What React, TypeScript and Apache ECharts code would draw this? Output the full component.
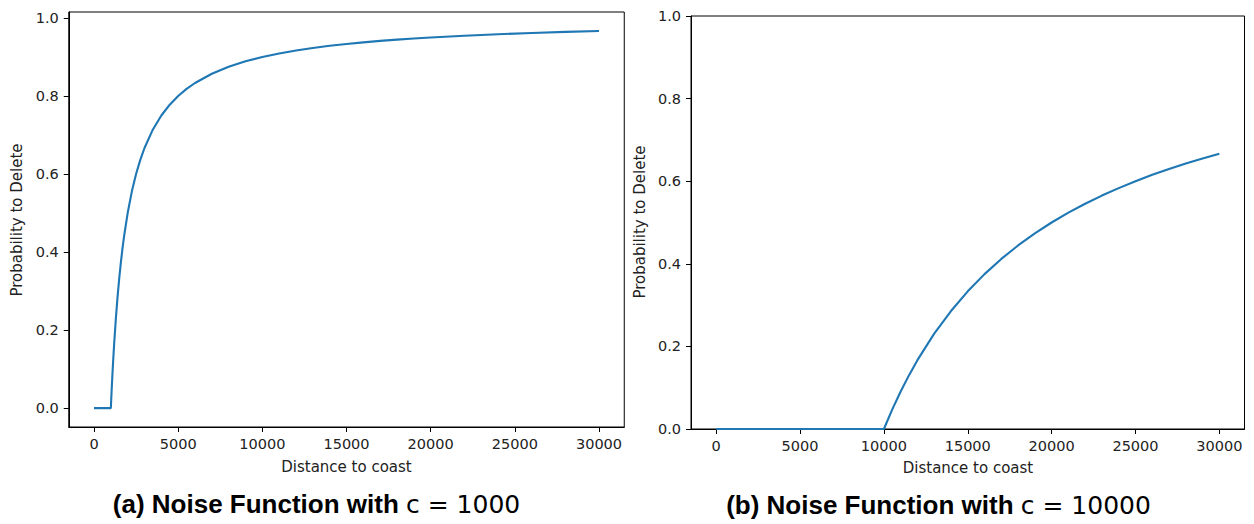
import React, { useEffect, useRef } from "react";
import * as echarts from "echarts";

// Panel (a): c = 1000
const distA = [0, 500, 1000, 1050, 1100, 1150, 1200, 1300, 1400, 1500, 1600, 1700, 1800, 2000, 2250, 2500, 2750, 3000, 3500, 4000, 4500, 5000, 5500, 6000, 7000, 8000, 9000, 10000, 11000, 12000, 13000, 14000, 15000, 16000, 17000, 18000, 19000, 20000, 22000, 24000, 26000, 28000, 30000];
const probA = [0, 0, 0, 0.0476, 0.0909, 0.1304, 0.1667, 0.2308, 0.2857, 0.3333, 0.375, 0.4118, 0.4444, 0.5, 0.5556, 0.6, 0.6364, 0.6667, 0.7143, 0.75, 0.7778, 0.8, 0.8182, 0.8333, 0.8571, 0.875, 0.8889, 0.9, 0.9091, 0.9167, 0.9231, 0.9286, 0.9333, 0.9375, 0.9412, 0.9444, 0.9474, 0.95, 0.9545, 0.9583, 0.9615, 0.9643, 0.9667];

// Panel (b): c = 10000
const distB = [0, 2500, 5000, 7500, 10000, 10500, 11000, 11500, 12000, 13000, 14000, 15000, 16000, 17000, 18000, 19000, 20000, 21000, 22000, 23000, 24000, 25000, 26000, 27000, 28000, 29000, 30000];
const probB = [0, 0, 0, 0, 0, 0.0476, 0.0909, 0.1304, 0.1667, 0.2308, 0.2857, 0.3333, 0.375, 0.4118, 0.4444, 0.4737, 0.5, 0.5238, 0.5455, 0.5652, 0.5833, 0.6, 0.6154, 0.6296, 0.6429, 0.6552, 0.6667];

const xTicks = [0, 5000, 10000, 15000, 20000, 25000, 30000];
const yTicks = [0, 0.2, 0.4, 0.6, 0.8, 1.0];

const xTitle = "Distance to coast";
const yTitle = "Probability to Delete";
const captionA = ["(a) Noise Function with ", "c = 1000"];
const captionB = ["(b) Noise Function with ", "c = 10000"];

const TICK_FONT = "DejaVu Sans";
const LINE_COLOR = "#1f77b4";

export default function App() {
  const ref = useRef<HTMLDivElement>(null);

  useEffect(() => {
    if (!ref.current) return;
    const chart = echarts.init(ref.current, undefined, { renderer: "svg" });

    const xAxisCommon = (gridIndex: number) => ({
      type: "value" as const,
      gridIndex,
      min: -1500,
      max: 31500,
      axisLine: { show: true, onZero: false, lineStyle: { color: "#000", width: 1 } },
      axisTick: { show: true, length: 5, lineStyle: { color: "#000", width: 1 }, customValues: xTicks },
      axisLabel: {
        customValues: xTicks,
        fontFamily: TICK_FONT,
        fontSize: 14.5,
        color: "#222",
        margin: 9,
        formatter: (v: number) => String(v),
      },
      splitLine: { show: false },
    });

    const pairs = (xs: number[], ys: number[]) => xs.map((x, i) => [x, ys[i]]);

    const captionRich = {
      b: { fontFamily: "Liberation Sans", fontWeight: "bold", fontSize: 26, fill: "#000" },
      r: { fontFamily: "DejaVu Sans", fontWeight: "normal", fontSize: 25, fill: "#000" },
    };

    const option = {
      animation: false,
      backgroundColor: "#fff",
      grid: [
        { left: 68.75, top: 12, width: 555.5, height: 415, show: true, borderColor: "#000", borderWidth: 1, backgroundColor: "transparent" },
        { left: 691, top: 16, width: 553.5, height: 413, show: true, borderColor: "#000", borderWidth: 1, backgroundColor: "transparent" },
      ],
      xAxis: [xAxisCommon(0), xAxisCommon(1)],
      yAxis: [
        {
          type: "value",
          gridIndex: 0,
          min: -0.0484,
          max: 1.0153,
          axisLine: { show: true, onZero: false, lineStyle: { color: "#000", width: 1 } },
          axisTick: { show: true, length: 5, lineStyle: { color: "#000", width: 1 }, customValues: yTicks },
          axisLabel: {
            customValues: yTicks,
            fontFamily: TICK_FONT,
            fontSize: 14.5,
            color: "#222",
            margin: 10,
            formatter: (v: number) => v.toFixed(1),
          },
          splitLine: { show: false },
        },
        {
          type: "value",
          gridIndex: 1,
          min: 0,
          max: 1,
          interval: 0.2,
          axisLine: { show: true, onZero: false, lineStyle: { color: "#000", width: 1 } },
          axisTick: { show: true, length: 5, lineStyle: { color: "#000", width: 1 } },
          axisLabel: {
            fontFamily: TICK_FONT,
            fontSize: 14.5,
            color: "#222",
            margin: 10,
            formatter: (v: number) => v.toFixed(1),
          },
          splitLine: { show: false },
        },
      ],
      series: [
        {
          type: "line",
          xAxisIndex: 0,
          yAxisIndex: 0,
          data: pairs(distA, probA),
          showSymbol: false,
          symbol: "none",
          lineStyle: { color: LINE_COLOR, width: 2.1 },
          silent: true,
        },
        {
          type: "line",
          xAxisIndex: 1,
          yAxisIndex: 1,
          data: pairs(distB, probB),
          showSymbol: false,
          symbol: "none",
          lineStyle: { color: LINE_COLOR, width: 2.1 },
          silent: true,
        },
      ],
      graphic: [
        {
          type: "text",
          x: 346.5,
          y: 467,
          style: { text: xTitle, font: `15px "${TICK_FONT}"`, fill: "#222", textAlign: "center", textVerticalAlign: "middle" },
        },
        {
          type: "text",
          x: 968,
          y: 468,
          style: { text: xTitle, font: `15px "${TICK_FONT}"`, fill: "#222", textAlign: "center", textVerticalAlign: "middle" },
        },
        {
          type: "text",
          x: 17,
          y: 220,
          rotation: Math.PI / 2,
          style: { text: yTitle, font: `15px "${TICK_FONT}"`, fill: "#222", textAlign: "center", textVerticalAlign: "middle" },
        },
        {
          type: "text",
          x: 640,
          y: 222,
          rotation: Math.PI / 2,
          style: { text: yTitle, font: `15px "${TICK_FONT}"`, fill: "#222", textAlign: "center", textVerticalAlign: "middle" },
        },
        {
          type: "text",
          x: 316.5,
          y: 504,
          style: {
            text: `{b|${captionA[0]}}{r|${captionA[1]}}`,
            textAlign: "center",
            textVerticalAlign: "middle",
            rich: captionRich,
          },
        },
        {
          type: "text",
          x: 938.5,
          y: 505,
          style: {
            text: `{b|${captionB[0]}}{r|${captionB[1]}}`,
            textAlign: "center",
            textVerticalAlign: "middle",
            rich: captionRich,
          },
        },
      ],
    };

    chart.setOption(option as any);
    return () => chart.dispose();
  }, []);

  return (
    <div
      ref={ref}
      style={{ position: "fixed", left: 0, top: 0, width: 1254, height: 524 }}
    />
  );
}
